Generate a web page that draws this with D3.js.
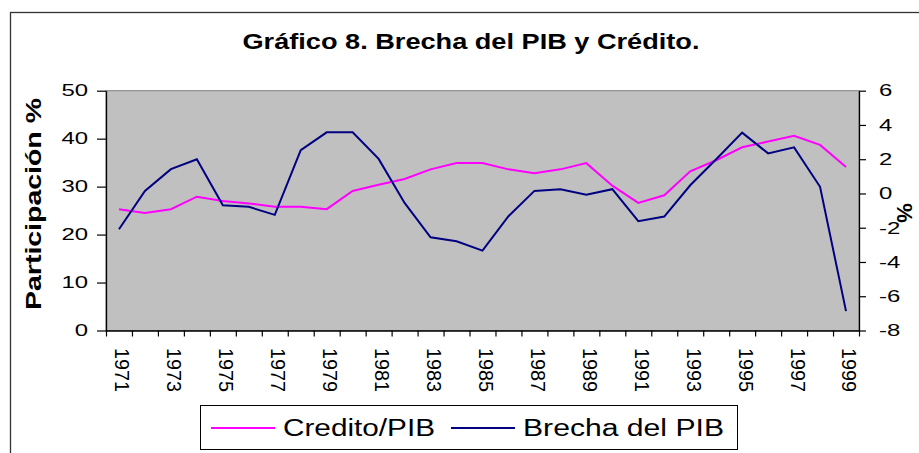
<!DOCTYPE html>
<html>
<head>
<meta charset="utf-8">
<script src="https://cdn.jsdelivr.net/npm/d3@7"></script>
<style>
  body { margin: 0; background: #fff; }
  text { font-family: "Liberation Sans", Arial, sans-serif; fill: #000; }
</style>
</head>
<body>
<svg id="chart" width="919" height="453"></svg>
<script>
// data
const years = d3.range(1971, 2000);
const creditoPib = [25.3, 24.5, 25.3, 27.9, 27.0, 26.5, 25.8, 25.8, 25.3, 29.1,
                    30.4, 31.6, 33.6, 34.9, 34.9, 33.6, 32.8, 33.6, 34.9, 30.2,
                    26.6, 28.2, 33.2, 35.5, 38.2, 39.4, 40.6, 38.7, 34.1];
const brechaPib = [-2.09, 0.15, 1.42, 2.0, -0.69, -0.78, -1.25, 2.53, 3.57, 3.57,
                   2.02, -0.55, -2.56, -2.79, -3.34, -1.33, 0.15, 0.25, -0.08, 0.25,
                   -1.62, -1.35, 0.48, 2.0, 3.55, 2.34, 2.69, 0.39, -6.87];
const leftTicks = [0, 10, 20, 30, 40, 50];
const rightTicks = [-8, -6, -4, -2, 0, 2, 4, 6];
const yearLabels = years.filter((d, i) => i % 2 === 0);

const svg = d3.select("#chart");
const plot = {left: 106, right: 859, top: 90.7, bottom: 330.5};

// stretch text sideways a bit, the source font runs wide
function widen(sel, k) {
    sel.each(function() {
        const w = this.getComputedTextLength();
        d3.select(this).attr("textLength", w * k).attr("lengthAdjust", "spacingAndGlyphs");
    });
}

// outer frame (runs off the right and bottom edge)
svg.append("rect")
    .attr("x", 10.5).attr("y", 12.5)
    .attr("width", 1000).attr("height", 1000)
    .style("fill", "none").style("stroke", "#333").style("stroke-width", 1.3);

svg.append("text")
    .attr("x", 471).attr("y", 48.5)
    .attr("text-anchor", "middle")
    .style("font-size", "21.5px").style("font-weight", "bold")
    .attr("textLength", 457).attr("lengthAdjust", "spacingAndGlyphs")
    .text("Gráfico 8. Brecha del PIB y Crédito.");

const x = d3.scaleBand().domain(years).range([plot.left, plot.right]).padding(0);
const xEdge = d3.scaleLinear().domain([0, years.length]).range([plot.left, plot.right]);
const yL = d3.scaleLinear().domain([0, 50]).range([plot.bottom, plot.top]);
const yR = d3.scaleLinear().domain([-8, 6]).range([plot.bottom, plot.top]);
const cx = d => x(d) + x.bandwidth() / 2;

// plot area
svg.append("rect")
    .attr("x", plot.left).attr("y", plot.top)
    .attr("width", plot.right - plot.left).attr("height", plot.bottom - plot.top)
    .style("fill", "#c0c0c0").style("stroke", "#808080").style("stroke-width", 1);

// axes
const gx = svg.append("g")
    .attr("transform", `translate(0,${plot.bottom})`)
    .call(d3.axisBottom(xEdge).tickValues(d3.range(years.length + 1)).tickFormat("").tickSize(6).tickSizeOuter(0));

const gl = svg.append("g")
    .attr("transform", `translate(${plot.left},0)`)
    .call(d3.axisLeft(yL).tickValues(leftTicks).tickFormat(d => String(d)).tickSize(9).tickSizeOuter(0).tickPadding(9));

const gr = svg.append("g")
    .attr("transform", `translate(${plot.right},0)`)
    .call(d3.axisRight(yR).tickValues(rightTicks).tickFormat(d => String(d)).tickSize(7).tickSizeOuter(0).tickPadding(13));

[gx, gl, gr].forEach(g => {
    g.selectAll(".domain").style("stroke", "#000").style("stroke-width", 1.3);
    g.selectAll(".tick line").style("stroke", "#000").style("stroke-width", 1.2);
});
gl.selectAll("text").style("font-size", "16.5px").style("font-family", null).attr("fill", "#000");
gr.selectAll("text").style("font-size", "16.5px").style("font-family", null).attr("fill", "#000");
widen(gl.selectAll("text"), 1.45);
widen(gr.selectAll("text"), 1.45);
svg.selectAll(".tick text").attr("font-family", null).attr("font-size", null);

// year labels, turned to read downwards
svg.append("g").selectAll("text")
    .data(yearLabels)
    .enter().append("text")
    .attr("transform", d => `translate(${cx(d) + 4},348) rotate(90)`)
    .attr("dy", "0.36em")
    .style("font-size", "21px")
    .attr("textLength", 44).attr("lengthAdjust", "spacingAndGlyphs")
    .text(d => d);

// axis titles
svg.append("text")
    .attr("transform", "translate(33,204) rotate(-90)")
    .attr("text-anchor", "middle").attr("dy", "0.36em")
    .style("font-size", "22px").style("font-weight", "bold")
    .attr("textLength", 212).attr("lengthAdjust", "spacingAndGlyphs")
    .text("Participación %");

svg.append("text")
    .attr("transform", "translate(905,213) rotate(90)")
    .attr("text-anchor", "middle").attr("dy", "0.36em")
    .style("font-size", "22px").style("font-weight", "bold")
    .text("%");

// series
const lineL = d3.line().x((d, i) => cx(years[i])).y(d => yL(d));
const lineR = d3.line().x((d, i) => cx(years[i])).y(d => yR(d));

svg.append("path").datum(creditoPib)
    .attr("d", lineL)
    .style("fill", "none").style("stroke", "#ff00ff").style("stroke-width", 2);

svg.append("path").datum(brechaPib)
    .attr("d", lineR)
    .style("fill", "none").style("stroke", "#000080").style("stroke-width", 2);

// legend
const legend = svg.append("g");
legend.append("rect")
    .attr("x", 200.5).attr("y", 405.5).attr("width", 537).attr("height", 44)
    .style("fill", "#fff").style("stroke", "#000").style("stroke-width", 1);

const legendItems = [
    {name: "Credito/PIB", color: "#ff00ff", x0: 211, len: 152},
    {name: "Brecha del PIB", color: "#000080", x0: 451, len: 201}
];
legendItems.forEach(function(it) {
    legend.append("line")
        .attr("x1", it.x0).attr("x2", it.x0 + 64)
        .attr("y1", 428).attr("y2", 428)
        .style("stroke", it.color).style("stroke-width", 2);
    legend.append("text")
        .attr("x", it.x0 + 72).attr("y", 436)
        .style("font-size", "23.5px")
        .attr("textLength", it.len).attr("lengthAdjust", "spacingAndGlyphs")
        .text(it.name);
});
</script>
</body>
</html>
